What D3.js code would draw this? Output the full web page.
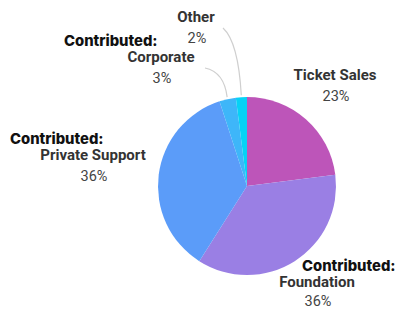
<!DOCTYPE html>
<html>
<head>
<meta charset="utf-8">
<script src="https://cdn.jsdelivr.net/npm/d3@7"></script>
<style>
  html, body { margin: 0; padding: 0; background: #fff; }
  svg { display: block; }
</style>
</head>
<body>
<svg id="chart" width="402" height="311"></svg>
<script>
"use strict";

// data
const categories = ["Ticket Sales", "Foundation", "Private Support", "Corporate", "Other"];
const shares = [23, 36, 36, 3, 2];
const prefixes = ["", "Contributed:", "Contributed:", "Contributed:", ""];
const colors = ["#bd55b9", "#9a7fe4", "#5b9cf9", "#3eb6f9", "#06d2f6"];

const width = 402, height = 311;
const cx = 247, cy = 186, radius = 89;

// where each label block sits (name centre x, name baseline y, prefix left x)
const labelPos = [
  {x: 335, y: 80},
  {x: 317, y: 287, px: 302},
  {x: 93, y: 160, px: 10},
  {x: 161, y: 62, px: 64},
  {x: 196, y: 22}
];
// leader line ends for the thin slices
const leaderEnd = {3: [205, 68], 4: [223, 28]};

const svg = d3.select("#chart");
const g = svg.append("g").attr("transform", `translate(${cx},${cy})`);

const data = categories.map((c, i) => ({name: c, value: shares[i], i: i}));

const pie = d3.pie().sort(null).value(d => d.value);
const arc = d3.arc().innerRadius(0).outerRadius(radius);
const arcs = pie(data);

g.selectAll("path.slice")
  .data(arcs)
  .enter()
  .append("path")
  .attr("class", "slice")
  .attr("d", arc)
  .attr("fill", d => colors[d.data.i]);

// leader lines
const edge = d3.arc().innerRadius(radius + 2).outerRadius(radius + 2);
arcs.filter(d => leaderEnd[d.data.i]).forEach(d => {
  const p = edge.centroid(d);
  const sx = cx + p[0], sy = cy + p[1];
  const e = leaderEnd[d.data.i];
  const ctrlX = sx - 3, ctrlY = e[1] + (d.data.i == 4 ? 14 : 4);
  svg.append("path")
    .attr("d", `M${sx},${sy} Q${ctrlX},${ctrlY} ${e[0]},${e[1]}`)
    .attr("fill", "none")
    .attr("stroke", "#cfcfcf")
    .attr("stroke-width", 1.2);
});

// labels
data.forEach((d, i) => {
  const pos = labelPos[i];
  if (prefixes[i]) {
    svg.append("text")
      .attr("x", pos.px)
      .attr("y", pos.y - 16)
      .attr("font-family", "Inter, 'Noto Sans', sans-serif")
      .attr("font-weight", 800)
      .attr("font-size", 14.8)
      .attr("fill", "#111")
      .text(prefixes[i]);
  }
  svg.append("text")
    .attr("x", pos.x)
    .attr("y", pos.y)
    .attr("text-anchor", "middle")
    .attr("font-family", "Roboto, 'Liberation Sans', sans-serif")
    .attr("font-weight", 700)
    .attr("font-size", 15)
    .attr("fill", "#333")
    .text(d.name);
  svg.append("text")
    .attr("x", pos.x + 1)
    .attr("y", Math.min(pos.y + 21, height - 5))
    .attr("text-anchor", "middle")
    .attr("font-family", "Roboto, 'Liberation Sans', sans-serif")
    .attr("font-size", 14.5)
    .attr("fill", "#444")
    .text(d.value + "%");
});
</script>
</body>
</html>
